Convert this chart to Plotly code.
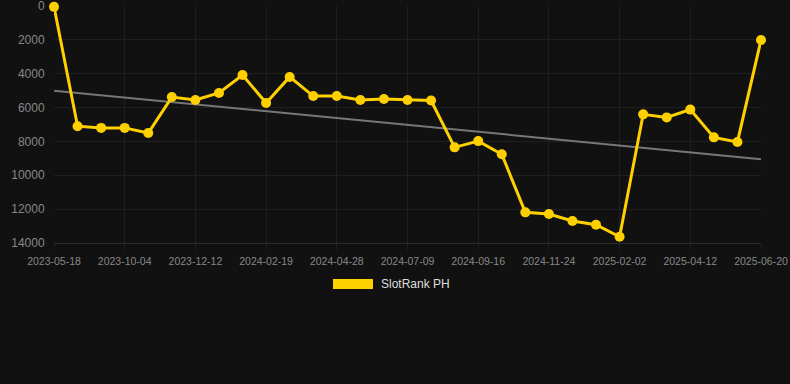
import plotly.graph_objects as go

dates = [
    "2023-05-18", "2023-08-08", "2023-09-11", "2023-10-04", "2023-10-27", "2023-11-19",
    "2023-12-12", "2024-01-04", "2024-01-27", "2024-02-19", "2024-03-13", "2024-04-05",
    "2024-04-28", "2024-05-22", "2024-06-15", "2024-07-09", "2024-08-01", "2024-08-24",
    "2024-09-16", "2024-10-09", "2024-11-01", "2024-11-24", "2024-12-17", "2025-01-09",
    "2025-02-02", "2025-02-25", "2025-03-20", "2025-04-12", "2025-05-05", "2025-05-28",
    "2025-06-20",
]
ranks = [
    50, 7100, 7200, 7200, 7500, 5380, 5550, 5140, 4080, 5730, 4190, 5320,
    5320, 5550, 5490, 5550, 5580, 8350, 7980, 8760, 12190, 12290, 12700, 12920,
    13630, 6400, 6580, 6120, 7760, 8030, 2010,
]
trend_x = [dates[0], dates[-1]]
trend_y = [5000, 9050]
tick_labels = dates[::3]
y_ticks = [0, 2000, 4000, 6000, 8000, 10000, 12000, 14000]
series_name = "SlotRank PH"

gold = "#FFD000"

fig = go.Figure()
fig.add_trace(go.Scatter(
    x=trend_x, y=trend_y, mode="lines",
    line=dict(color="#777777", width=2), showlegend=False, hoverinfo="skip",
))
fig.add_trace(go.Scatter(
    x=dates, y=ranks, mode="lines+markers",
    line=dict(color=gold, width=3), marker=dict(color=gold, size=10),
    showlegend=False, cliponaxis=False, name=series_name,
))

# legend drawn as a swatch + label below the plot
fig.add_shape(type="rect", xref="paper", yref="paper",
              x0=0.3946, x1=0.4512, y0=-0.1941, y1=-0.1519,
              fillcolor=gold, line=dict(width=0))
fig.add_annotation(xref="paper", yref="paper", x=0.4597, y=-0.173,
                   text=series_name, showarrow=False, xanchor="left", yanchor="middle",
                   font=dict(size=12, color="#dddddd"))

fig.update_layout(
    width=790, height=384,
    paper_bgcolor="#111111", plot_bgcolor="#111111",
    margin=dict(l=54, r=29, t=6, b=141, autoexpand=False),
    font=dict(family="Liberation Sans, Arial, sans-serif", color="#888888"),
    showlegend=False,
)
fig.update_xaxes(
    type="category", categoryorder="array", categoryarray=dates,
    range=[0, len(dates) - 1],
    tickmode="array", tickvals=tick_labels, ticktext=tick_labels,
    tickfont=dict(size=10.5, color="#888888"),
    showgrid=True, gridcolor="#1f1f1f", gridwidth=1,
    zeroline=False, showline=True, linecolor="#2a2a2a", linewidth=1,
    ticks="outside", ticklen=6, tickcolor="#1f1f1f", ticklabelstandoff=2,
    ticklabeloverflow="allow",
)
fig.update_yaxes(
    range=[14000, 0], tickmode="array", tickvals=y_ticks,
    ticktext=[str(v) for v in y_ticks],
    tickfont=dict(size=12, color="#888888"),
    showgrid=True, gridcolor="#1f1f1f", gridwidth=1,
    zeroline=False, showline=False,
    ticks="outside", ticklen=6, tickcolor="rgba(0,0,0,0)",
    ticklabeloverflow="allow",
)

fig.write_html("out.html", config={"displayModeBar": False},
               post_script="document.body.style.margin='0';")
